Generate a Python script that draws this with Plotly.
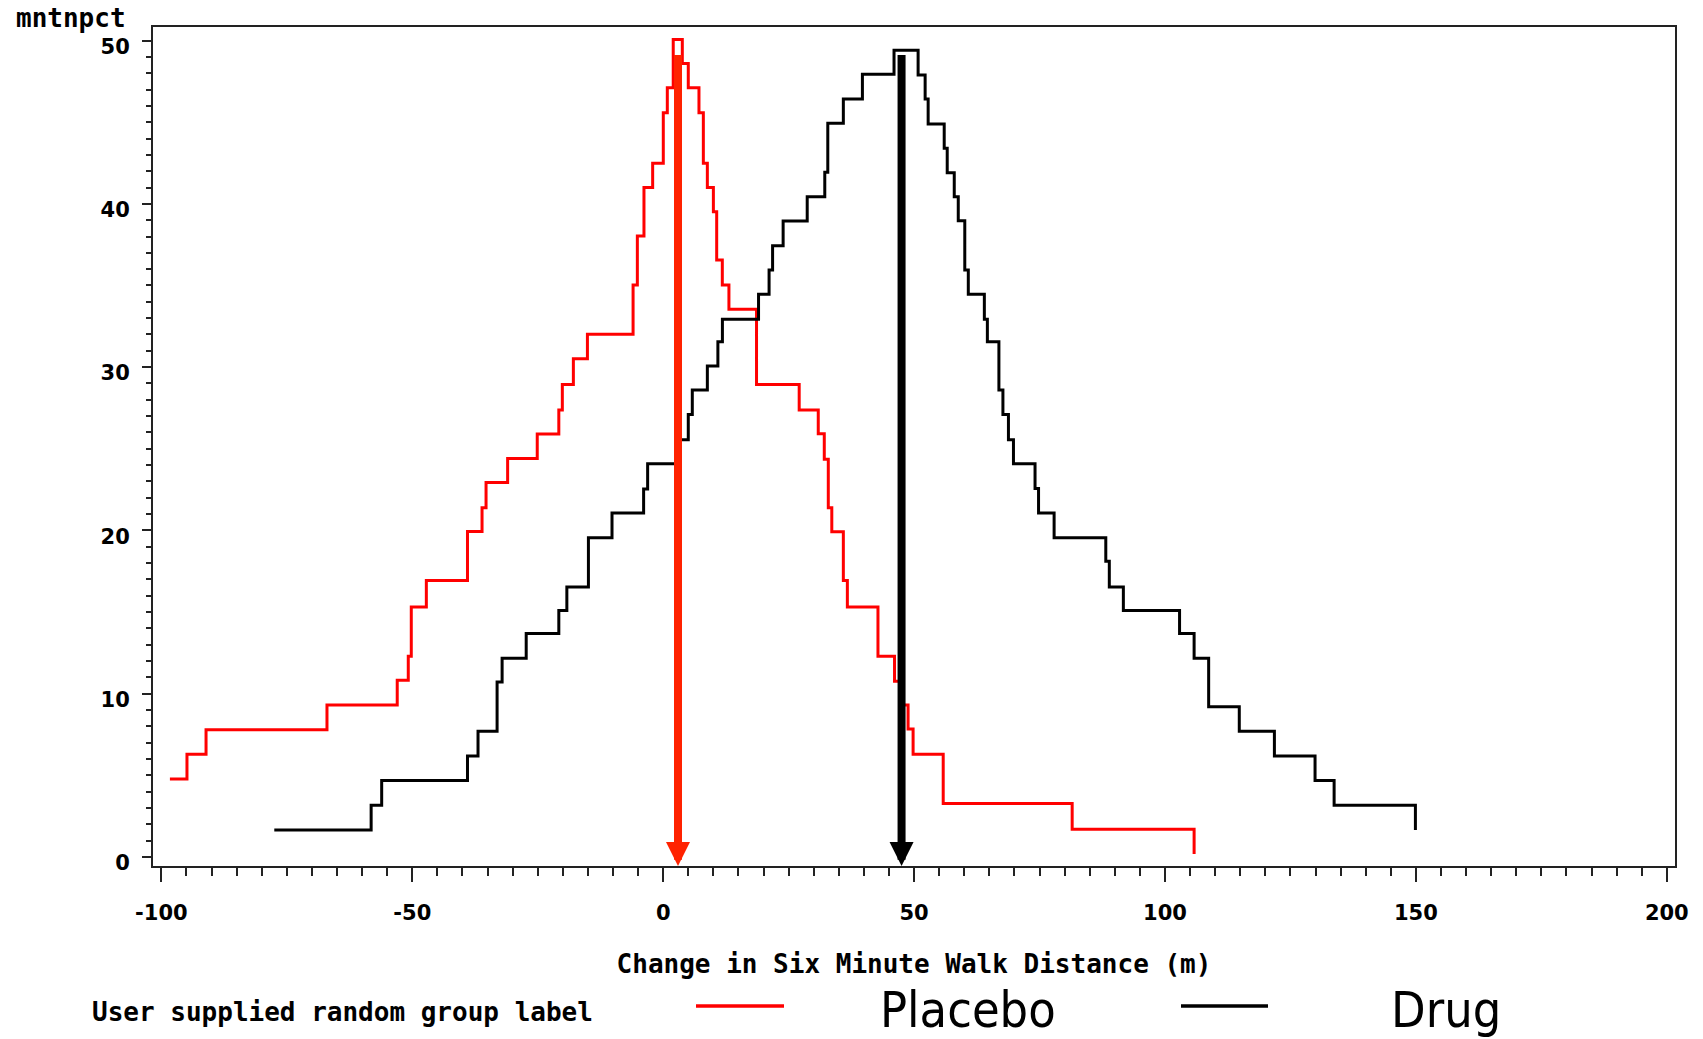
import plotly.graph_objects as go

# ---------------- data ----------------
placebo_x = [-98.3, -94.9, -91.1, -67.0, -53.0, -50.8, -50.2, -47.2, -39.0, -36.1,
             -35.3, -31.0, -25.1, -20.8, -20.1, -17.9, -15.1, -6.0, -5.15, -3.83,
             -2.1, 0.02, 0.82, 2.0, 3.81, 5.0, 7.13, 8.0, 8.8, 10.0,
             10.66, 11.78, 13.1, 18.6, 27.1, 30.9, 32.1, 32.9, 33.6, 35.9,
             36.7, 42.8, 46.1, 47.7, 48.8, 49.8, 55.8, 81.5, 105.8]
placebo_y = [4.78, 6.30, 7.80, 9.31, 10.82, 12.29, 15.31, 16.93, 19.94, 21.39,
             22.94, 24.40, 25.91, 27.38, 28.93, 30.51, 32.01, 35.03, 38.03, 41.00,
             42.48, 45.58, 47.11, 50.07, 48.60, 47.11, 45.58, 42.48, 41.00, 39.52,
             36.56, 35.03, 33.54, 28.93, 27.38, 25.92, 24.36, 21.39, 19.92, 16.93,
             15.31, 12.29, 10.76, 9.31, 7.84, 6.30, 3.28, 1.70, 0.19]

drug_x = [-77.5, -58.2, -56.1, -39.0, -36.9, -33.1, -32.1, -27.3, -20.8, -19.2,
          -14.9, -10.2, -3.9, -3.1, 3.0, 5.0, 5.8, 8.8, 10.9, 11.8,
          19.0, 21.1, 21.8, 23.9, 28.7, 32.2, 32.8, 35.9, 39.7, 46.0,
          50.8, 52.2, 52.8, 56.0, 56.6, 58.0, 58.8, 60.1, 60.8, 64.0,
          64.6, 66.9, 67.7, 68.8, 69.8, 74.1, 74.8, 77.9, 88.2, 88.9,
          91.7, 102.9, 105.8, 108.7, 114.8, 121.8, 129.9, 133.7, 149.9]
drug_y = [1.66, 3.17, 4.68, 6.19, 7.70, 10.72, 12.18, 13.69, 15.09, 16.53,
          19.55, 21.06, 22.53, 24.08, 25.55, 27.10, 28.60, 30.07, 31.56, 32.93,
          34.46, 35.95, 37.44, 38.95, 40.44, 41.93, 44.93, 46.42, 47.93, 49.40,
          47.89, 46.42, 44.89, 43.40, 41.90, 40.44, 38.97, 35.95, 34.46, 32.93,
          31.56, 28.60, 27.10, 25.55, 24.08, 22.57, 21.06, 19.55, 18.11, 16.53,
          15.09, 13.69, 12.18, 9.20, 7.70, 6.19, 4.68, 3.17, 1.66]

group_names = ["Placebo", "Drug"]
group_colors = ["#ff0000", "#000000"]
arrow_colors = ["#ff2200", "#000000"]
mean_change = [2.95, 47.5]        # arrow positions (x)
arrow_top = [49.2, 49.2]

x_ticks = [-100, -50, 0, 50, 100, 150, 200]
y_ticks = [0, 10, 20, 30, 40, 50]

x_title = "Change in Six Minute Walk Distance (m)"
y_title = "mntnpct"
legend_title = "User supplied random group label"

# ---------------- figure ----------------
W, H = 1703, 1039
P_LEFT, P_RIGHT, P_TOP, P_BOTTOM = 153, 1675, 27, 866   # plot frame in pixels
ML, MT = P_LEFT, P_TOP
MR, MB = W - P_RIGHT, H - P_BOTTOM
plot_w = P_RIGHT - P_LEFT
plot_h = P_BOTTOM - P_TOP

x_range = [-101.67, 201.63]
y_range = [-0.55, 50.83]

def px_x(X):
    return (X - P_LEFT) / plot_w

def px_y(Y):
    return (P_BOTTOM - Y) / plot_h

mono = "DejaVu Sans Mono"
mono_font = dict(family=mono, size=26, color="black", weight="bold")
tickfont = dict(family="DejaVu Sans", size=21, color="black", weight="bold")

fig = go.Figure()
for xs, ys, name, col in [(placebo_x, placebo_y, group_names[0], group_colors[0]),
                          (drug_x, drug_y, group_names[1], group_colors[1])]:
    fig.add_trace(go.Scatter(x=xs, y=ys, mode="lines", name=name,
                             line=dict(color=col, width=3, shape="hv"),
                             showlegend=False, hoverinfo="skip"))

annotations = []
for xm, yt, col in zip(mean_change, arrow_top, arrow_colors):
    annotations.append(dict(x=xm, y=y_range[0], xref="x", yref="y",
                            ax=xm, ay=yt, axref="x", ayref="y",
                            text="", showarrow=True, arrowhead=2,
                            arrowsize=0.6, arrowwidth=8, arrowcolor=col,
                            standoff=0))

annotations.append(dict(text=y_title, xref="paper", yref="paper",
                        x=px_x(14), y=px_y(18.5), xanchor="left", yanchor="middle",
                        showarrow=False, font=mono_font))
annotations.append(dict(text=legend_title, xref="paper", yref="paper",
                        x=px_x(90), y=px_y(1012), xanchor="left", yanchor="middle",
                        showarrow=False, font=mono_font))
leg_text_x = [878, 1389]
leg_line_x = [(696, 784), (1181, 1268)]
shapes = []
for name, col, tx, (l0, l1) in zip(group_names, group_colors, leg_text_x, leg_line_x):
    annotations.append(dict(text=name, xref="paper", yref="paper",
                            x=px_x(tx), y=px_y(1009.5), xanchor="left", yanchor="middle",
                            showarrow=False,
                            font=dict(family="DejaVu Sans Condensed, Roboto", size=50,
                                      color="black")))
    shapes.append(dict(type="line", xref="paper", yref="paper",
                       x0=px_x(l0), x1=px_x(l1), y0=px_y(1006), y1=px_y(1006),
                       line=dict(color=col, width=3.5)))

fig.update_layout(
    width=W, height=H,
    margin=dict(l=ML, r=MR, t=MT, b=MB, pad=0),
    paper_bgcolor="white", plot_bgcolor="white",
    font=dict(family=mono, color="black"),
    annotations=annotations, shapes=shapes,
    showlegend=False,
    xaxis=dict(range=x_range, tickvals=x_ticks, ticktext=[str(v) for v in x_ticks],
               showgrid=False, zeroline=False,
               showline=True, linecolor="#222222", linewidth=2, mirror=True,
               ticks="outside", ticklen=14, tickwidth=2, tickcolor="#222222",
               minor=dict(dtick=5, tick0=0, ticks="outside", ticklen=8,
                          tickwidth=2, tickcolor="#222222", showgrid=False),
               tickfont=tickfont, ticklabelstandoff=13,
               title=dict(text=x_title, standoff=31, font=mono_font)),
    yaxis=dict(range=y_range, tickvals=y_ticks, ticktext=[str(v) for v in y_ticks],
               showgrid=False, zeroline=False,
               showline=True, linecolor="#222222", linewidth=2, mirror=True,
               ticks="outside", ticklen=9, tickwidth=2, tickcolor="#222222",
               minor=dict(dtick=1, tick0=0, ticks="outside", ticklen=5,
                          tickwidth=2, tickcolor="#222222", showgrid=False),
               tickfont=tickfont, ticklabelstandoff=8, ticklabelshift=6),
)

# the page's default 8px body margin would push the figure off its intended spot
fig.write_html("out.html",
               config={"displayModeBar": False},
               post_script="document.body.style.margin='0px';")
